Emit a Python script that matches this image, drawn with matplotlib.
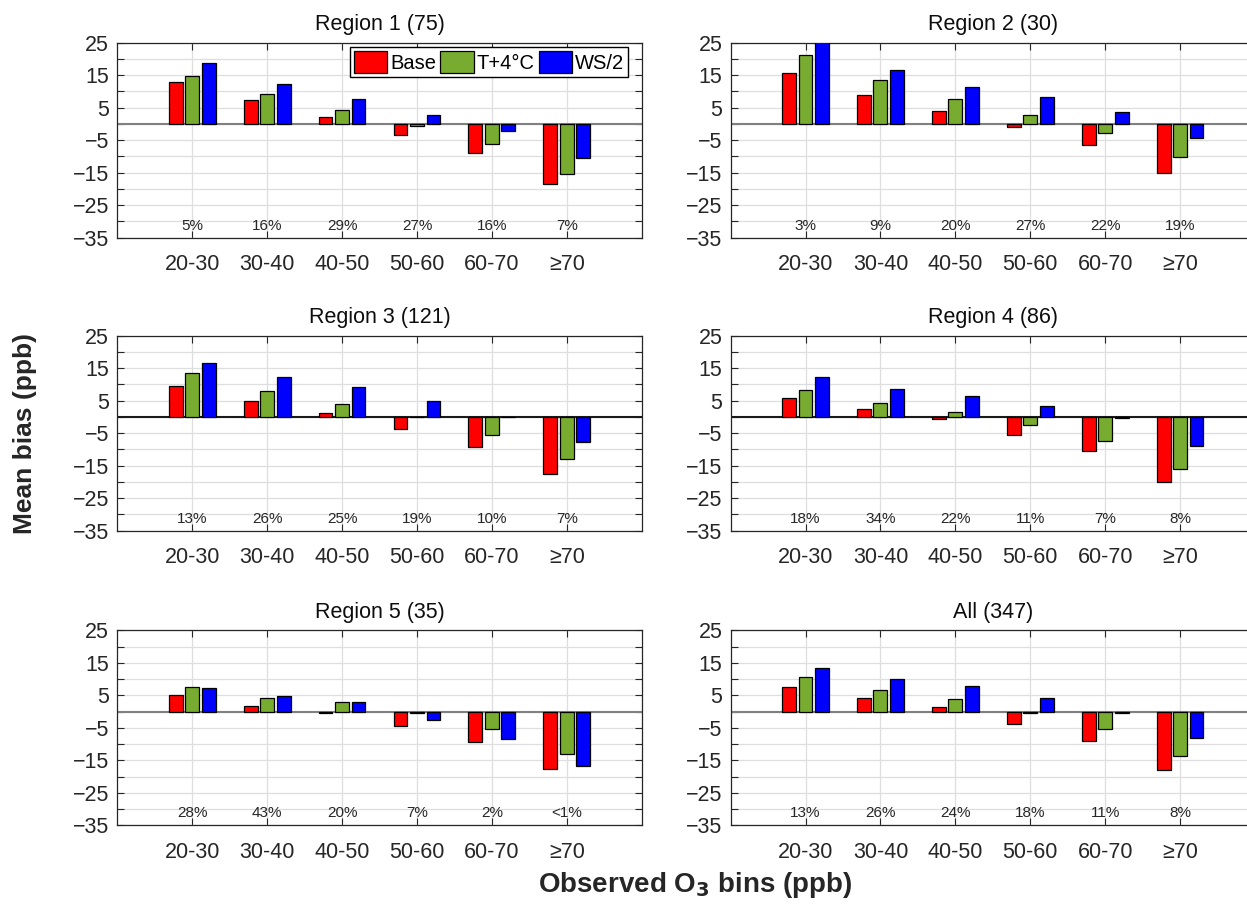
import matplotlib
matplotlib.use("Agg")
import matplotlib.pyplot as plt
import numpy as np
from matplotlib.ticker import FixedLocator

plt.rcParams['font.family'] = ['Liberation Sans', 'DejaVu Sans']

# data
bins = ["20-30", "30-40", "40-50", "50-60", "60-70", "\u226570"]
scenarios = ["Base", "T+4\u00b0C", "WS/2"]
titles = ["Region 1 (75)", "Region 2 (30)", "Region 3 (121)",
          "Region 4 (86)", "Region 5 (35)", "All (347)"]

base = [
    [13.0, 7.3, 2.2, -3.3, -9.0, -18.5],
    [15.8, 8.8, 4.1, -1.0, -6.5, -15.0],
    [9.5, 5.0, 1.2, -3.6, -9.2, -17.4],
    [5.7, 2.5, -0.7, -5.5, -10.6, -20.1],
    [5.1, 1.6, -0.3, -4.4, -9.5, -17.8],
    [7.6, 4.1, 1.3, -3.7, -9.0, -17.9],
]
t4 = [
    [14.9, 9.1, 4.4, -0.7, -6.1, -15.3],
    [21.3, 13.6, 7.6, 2.9, -2.7, -10.3],
    [13.4, 8.0, 4.0, -0.1, -5.5, -13.0],
    [8.3, 4.4, 1.5, -2.6, -7.5, -16.1],
    [7.7, 4.2, 2.9, -0.3, -5.3, -13.0],
    [10.7, 6.7, 3.8, -0.4, -5.5, -13.7],
]
ws2 = [
    [18.8, 12.4, 7.6, 2.9, -2.3, -10.6],
    [25.5, 16.7, 11.4, 8.2, 3.8, -4.2],
    [16.6, 12.3, 9.2, 4.9, -0.1, -7.7],
    [12.4, 8.6, 6.6, 3.4, -0.3, -9.0],
    [7.1, 4.8, 2.9, -2.6, -8.3, -16.9],
    [13.3, 10.1, 7.9, 4.1, -0.4, -8.1],
]
shares = [
    ["5%", "16%", "29%", "27%", "16%", "7%"],
    ["3%", "9%", "20%", "27%", "22%", "19%"],
    ["13%", "26%", "25%", "19%", "10%", "7%"],
    ["18%", "34%", "22%", "11%", "7%", "8%"],
    ["28%", "43%", "20%", "7%", "2%", "<1%"],
    ["13%", "26%", "24%", "18%", "11%", "8%"],
]

colors = ["#ff0000", "#77ac30", "#0000ff"]
zero_colors = ["0.5", "0.5", "0.1", "0.1", "0.5", "0.5"]

W, H = 1247, 909
fig = plt.figure(figsize=(W / 100, H / 100), dpi=100)

lefts = [117.3, 730.6]
tops = [42.7, 335.7, 630.3]
aw, ah = 524.4, 195.0

x = np.arange(1, len(bins) + 1)
offsets = [-0.22, 0.0, 0.22]
bw = 0.185

for i in range(6):
    r, c = divmod(i, 2)
    ax = fig.add_axes([lefts[c] / W, (H - tops[r] - ah) / H, aw / W, ah / H])
    for k, series in enumerate([base[i], t4[i], ws2[i]]):
        ax.bar(x + offsets[k], series, bw, color=colors[k], edgecolor="black",
               linewidth=0.9, zorder=3, label=scenarios[k])
    ax.axhline(0, color=zero_colors[i], linewidth=1.5, zorder=2)
    for xi, s in zip(x, shares[i]):
        ax.text(xi, -31.3, s, ha="center", va="center", fontsize=11,
                color="0.15", zorder=4)
    ax.set_xlim(0, 7)
    ax.set_ylim(-35, 25)
    ax.set_xticks(x)
    ax.set_xticklabels(bins, fontsize=15.5, color="0.15")
    ax.yaxis.set_major_locator(FixedLocator([25, 15, 5, -5, -15, -25, -35]))
    ax.yaxis.set_minor_locator(FixedLocator([20, 10, 0, -10, -20, -30]))
    ax.tick_params(axis="y", which="both", direction="in", left=True, right=True,
                   length=5, width=0.8, color="0.15", labelsize=15.5,
                   labelcolor="0.15", pad=6)
    ax.tick_params(axis="x", direction="in", top=True, bottom=True, length=5,
                   width=0.8, color="0.15", pad=12)
    ax.grid(True, which="both", axis="y", color="0.87", linewidth=0.9, zorder=0)
    ax.grid(True, which="major", axis="x", color="0.87", linewidth=0.9, zorder=0)
    ax.set_axisbelow(True)
    for sp in ax.spines.values():
        sp.set_color("0.15")
        sp.set_linewidth(0.9)
    ax.set_title(titles[i], fontsize=15.5, color="0.05", pad=9)
    if i == 0:
        ax.legend(loc="upper right", bbox_to_anchor=(0.974, 0.978),
                  borderaxespad=0, ncol=3, fontsize=14.5, frameon=True,
                  fancybox=False, edgecolor="black", framealpha=1,
                  handlelength=1.65, handleheight=1.3, handletextpad=0.15,
                  columnspacing=0.2, borderpad=0.2)

fig.text(25 / W, 1 - 434 / H, "Mean bias (ppb)", rotation=90, ha="center",
         va="center", fontsize=19, fontweight="bold", color="0.15")
fig.text(695 / W, 1 - 885 / H, "Observed O$_\\mathbf{3}$ bins (ppb)", ha="center",
         va="center", fontsize=20, fontweight="bold", color="0.15")

fig.savefig("out.png", dpi=100)
